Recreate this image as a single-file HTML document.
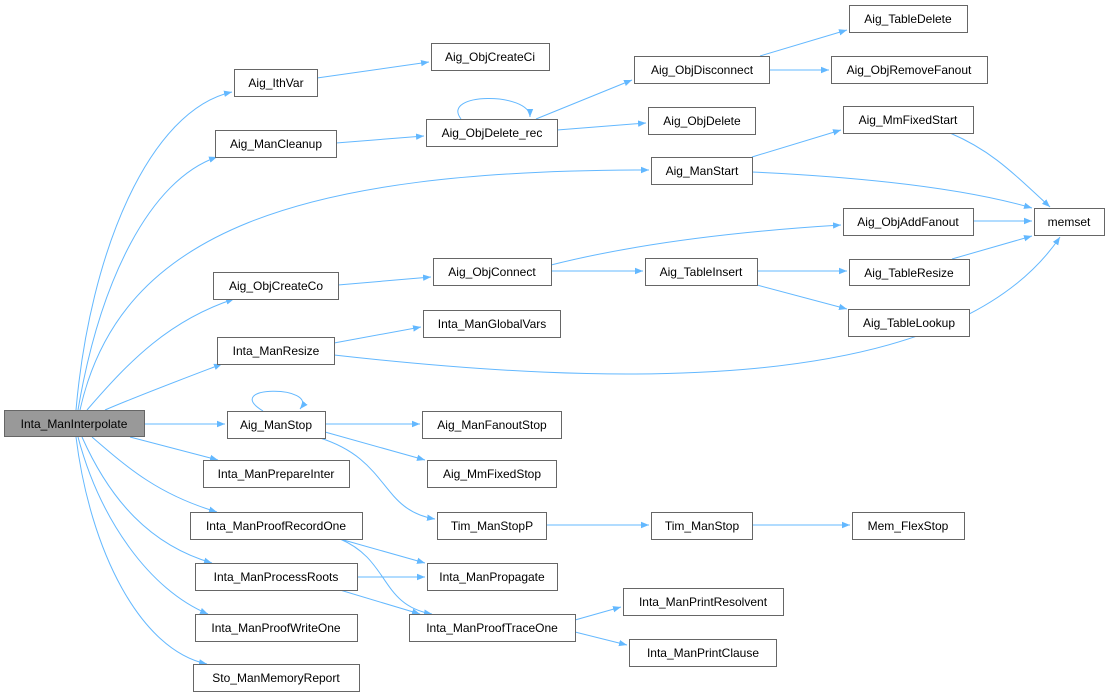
<!DOCTYPE html>
<html><head><meta charset="utf-8"><style>
html,body{margin:0;padding:0;background:#fff}
svg{display:block}
text{font-family:"Liberation Sans",Arial,sans-serif;font-size:12px;fill:#000;text-anchor:middle}
.n{fill:#fff;stroke:#666;stroke-width:1}
.e{fill:none;stroke:#63b8ff;stroke-width:1}
</style></head><body>
<svg width="1109" height="696" viewBox="0 0 1109 696" xmlns="http://www.w3.org/2000/svg">
<defs><marker id="a" viewBox="0 0 10 10" refX="10" refY="5" markerWidth="8" markerHeight="8" orient="auto" markerUnits="userSpaceOnUse"><path d="M0,1 L10,5 L0,9 z" fill="#63b8ff"/></marker></defs>
<g class="e" marker-end="url(#a)">
<path d="M76,410 C90,250 150,110 232,92"/>
<path d="M78,410 C100,280 150,180 217,157"/>
<path d="M80,410 C120,230 300,170 649,170"/>
<path d="M87,410 C130,360 170,320 234,299"/>
<path d="M105,410 C140,395 180,380 222,364"/>
<path d="M144,424 L225,424"/>
<path d="M130,437 L218,460"/>
<path d="M92,437 C130,470 160,495 217,512"/>
<path d="M82,437 C110,500 150,545 212,563"/>
<path d="M78,437 C100,520 150,590 208,614"/>
<path d="M76,437 C90,550 140,650 207,664"/>
<path d="M317,78 L429,62"/>
<path d="M336,143 L424,136"/>
<path d="M536,119 L632,80"/>
<path d="M557,130 L646,123"/>
<path d="M461,119 C440,92 530,92 530,117"/>
<path d="M760,56 L847,30"/>
<path d="M769,70 L829,70"/>
<path d="M752,157 L841,130"/>
<path d="M752,172 C880,178 970,190 1032,208"/>
<path d="M950,133 C990,150 1010,170 1050,207"/>
<path d="M973,221 L1032,221"/>
<path d="M952,259 L1032,236"/>
<path d="M338,285 L431,277"/>
<path d="M551,265 C650,240 760,230 841,225"/>
<path d="M551,271 L643,271"/>
<path d="M757,271 L847,271"/>
<path d="M757,285 L847,309"/>
<path d="M334,343 L421,327"/>
<path d="M334,355 C600,385 950,400 1060,237"/>
<path d="M325,424 L420,424"/>
<path d="M325,432 L425,460"/>
<path d="M320,438 C390,460 380,510 435,519"/>
<path d="M263,411 C220,385 320,385 300,409"/>
<path d="M546,525 L649,525"/>
<path d="M752,525 L850,525"/>
<path d="M340,539 L425,563"/>
<path d="M340,539 C390,560 380,605 432,614"/>
<path d="M357,577 L425,577"/>
<path d="M340,590 L420,614"/>
<path d="M575,620 L621,607"/>
<path d="M575,632 L627,645"/>
</g>
<g>
<rect x="4.5" y="410.5" width="140" height="26" fill="#999" stroke="#666"/><text x="74" y="428">Inta_ManInterpolate</text>
<rect class="n" x="234.5" y="69.5" width="83" height="27"/><text x="276" y="87">Aig_IthVar</text>
<rect class="n" x="431.5" y="43.5" width="118" height="27"/><text x="490" y="61">Aig_ObjCreateCi</text>
<rect class="n" x="215.5" y="130.5" width="121" height="27"/><text x="276" y="148">Aig_ManCleanup</text>
<rect class="n" x="426.5" y="119.5" width="131" height="27"/><text x="492" y="137">Aig_ObjDelete_rec</text>
<rect class="n" x="634.5" y="56.5" width="135" height="27"/><text x="702" y="74">Aig_ObjDisconnect</text>
<rect class="n" x="849.5" y="5.5" width="118" height="27"/><text x="908" y="23">Aig_TableDelete</text>
<rect class="n" x="831.5" y="56.5" width="156" height="27"/><text x="909" y="74">Aig_ObjRemoveFanout</text>
<rect class="n" x="648.5" y="107.5" width="107" height="27"/><text x="702" y="125">Aig_ObjDelete</text>
<rect class="n" x="843.5" y="106.5" width="130" height="27"/><text x="908" y="124">Aig_MmFixedStart</text>
<rect class="n" x="651.5" y="157.5" width="101" height="27"/><text x="702" y="175">Aig_ManStart</text>
<rect class="n" x="1034.5" y="208.5" width="70" height="27"/><text x="1069" y="226">memset</text>
<rect class="n" x="843.5" y="208.5" width="130" height="27"/><text x="908" y="226">Aig_ObjAddFanout</text>
<rect class="n" x="213.5" y="272.5" width="125" height="27"/><text x="276" y="290">Aig_ObjCreateCo</text>
<rect class="n" x="433.5" y="258.5" width="118" height="27"/><text x="492" y="276">Aig_ObjConnect</text>
<rect class="n" x="645.5" y="258.5" width="112" height="27"/><text x="701" y="276">Aig_TableInsert</text>
<rect class="n" x="849.5" y="259.5" width="120" height="26"/><text x="909" y="277">Aig_TableResize</text>
<rect class="n" x="848.5" y="309.5" width="121" height="27"/><text x="909" y="327">Aig_TableLookup</text>
<rect class="n" x="423.5" y="310.5" width="137" height="27"/><text x="492" y="328">Inta_ManGlobalVars</text>
<rect class="n" x="217.5" y="337.5" width="117" height="27"/><text x="276" y="355">Inta_ManResize</text>
<rect class="n" x="227.5" y="411.5" width="98" height="27"/><text x="276" y="429">Aig_ManStop</text>
<rect class="n" x="422.5" y="411.5" width="139" height="27"/><text x="492" y="429">Aig_ManFanoutStop</text>
<rect class="n" x="203.5" y="460.5" width="146" height="27"/><text x="276" y="478">Inta_ManPrepareInter</text>
<rect class="n" x="427.5" y="460.5" width="129" height="27"/><text x="492" y="478">Aig_MmFixedStop</text>
<rect class="n" x="437.5" y="512.5" width="109" height="27"/><text x="492" y="530">Tim_ManStopP</text>
<rect class="n" x="651.5" y="512.5" width="101" height="27"/><text x="702" y="530">Tim_ManStop</text>
<rect class="n" x="852.5" y="512.5" width="112" height="27"/><text x="908" y="530">Mem_FlexStop</text>
<rect class="n" x="190.5" y="512.5" width="172" height="27"/><text x="276" y="530">Inta_ManProofRecordOne</text>
<rect class="n" x="195.5" y="563.5" width="162" height="27"/><text x="276" y="581">Inta_ManProcessRoots</text>
<rect class="n" x="427.5" y="563.5" width="130" height="27"/><text x="492" y="581">Inta_ManPropagate</text>
<rect class="n" x="409.5" y="614.5" width="166" height="27"/><text x="492" y="632">Inta_ManProofTraceOne</text>
<rect class="n" x="623.5" y="588.5" width="160" height="27"/><text x="703" y="606">Inta_ManPrintResolvent</text>
<rect class="n" x="629.5" y="639.5" width="147" height="27"/><text x="703" y="657">Inta_ManPrintClause</text>
<rect class="n" x="195.5" y="614.5" width="162" height="27"/><text x="276" y="632">Inta_ManProofWriteOne</text>
<rect class="n" x="193.5" y="664.5" width="166" height="27"/><text x="276" y="682">Sto_ManMemoryReport</text>
</g>
</svg>
</body></html>
